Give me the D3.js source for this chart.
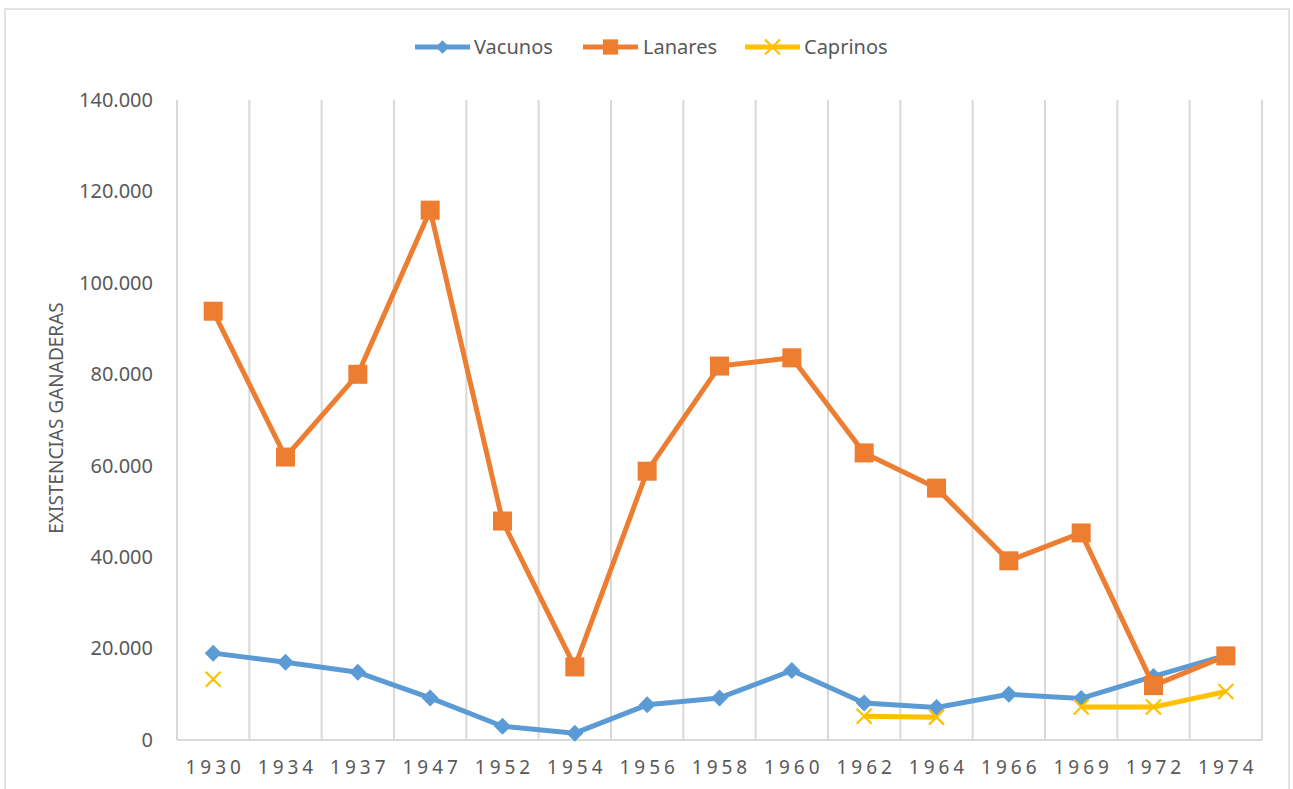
<!DOCTYPE html>
<html><head><meta charset="utf-8">
<script src="https://cdn.jsdelivr.net/npm/d3@7"></script>
<style>body{margin:0;background:#fff}svg{display:block}text{font-family:"Noto Sans","Open Sans",sans-serif;fill:#595959}</style>
</head><body>
<script>
const years = ["1930","1934","1937","1947","1952","1954","1956","1958","1960","1962","1964","1966","1969","1972","1974"];
const vacunos = [19000,17000,14800,9200,3000,1500,7700,9200,15200,8100,7100,10000,9100,13900,18500];
const lanares = [93800,61900,80000,115900,47900,16000,58800,81800,83600,62800,55100,39200,45300,11900,18400];
const caprinos = [13300,null,null,null,null,null,null,null,null,5200,5000,null,7200,7200,10600];
const yTicks = [0,20000,40000,60000,80000,100000,120000,140000];
const seriesNames = ["Vacunos","Lanares","Caprinos"];
const colors = ["#5B9BD5","#ED7D31","#FFC000"];

const W=1293,H=789;
const svg=d3.select("body").append("svg").attr("width",W).attr("height",H);
svg.append("rect").attr("x",5).attr("y",9).attr("width",1284).attr("height",800).attr("fill","#fff").attr("stroke","#D9D9D9").attr("stroke-width",1.5);

const x=d3.scaleBand().domain(years).range([177,1262]);
const y=d3.scaleLinear().domain([0,140000]).range([740,100]);

const edges=years.map(d=>x(d)).concat([x.range()[1]]);
svg.append("g").selectAll("line").data(edges).join("line")
 .attr("x1",d=>d).attr("x2",d=>d).attr("y1",100).attr("y2",740)
 .attr("stroke","#D9D9D9").attr("stroke-width",2);
svg.append("line").attr("x1",177).attr("x2",1262).attr("y1",740).attr("y2",740).attr("stroke","#D9D9D9").attr("stroke-width",2);

const fmt=v=>d3.format(",")(v).replace(/,/g,".");
const yAxis=d3.axisLeft(y).tickValues(yTicks).tickFormat(fmt).tickSize(0).tickPadding(24);
const gy=svg.append("g").attr("transform","translate(177,0)").call(yAxis);
gy.select(".domain").remove();
gy.selectAll("text").style("font-size","20px").style("fill","#595959").style("font-family",null);

const xAxis=d3.axisBottom(x).tickSize(0).tickPadding(18);
const gx=svg.append("g").attr("transform","translate(0,740)").call(xAxis);
gx.select(".domain").remove();
gx.selectAll("text").style("font-size","19px").style("letter-spacing","4px").attr("dx","2").attr("dy","0.82em").style("fill","#595959").style("font-family",null);

svg.append("text").attr("transform","translate(63,418) rotate(-90)").attr("text-anchor","middle")
 .style("font-size","19px").text("EXISTENCIAS GANADERAS");

const data=[vacunos,lanares,caprinos];
const line=d3.line().defined(d=>d!=null).x((d,i)=>x(years[i])+x.bandwidth()/2).y(d=>y(d));

function marker(g,k,cx,cy,scale){
  const c=colors[k];
  if(k===0){
    const s=8.5*scale;
    g.append("path").attr("d",`M${cx},${cy-s}L${cx+s},${cy}L${cx},${cy+s}L${cx-s},${cy}Z`).attr("fill",c);
  } else if(k===1){
    const s=9.5*scale;
    g.append("rect").attr("x",cx-s).attr("y",cy-s).attr("width",2*s).attr("height",2*s).attr("fill",c);
  } else {
    const s=7.5*scale;
    g.append("path").attr("d",`M${cx-s},${cy-s}L${cx+s},${cy+s}M${cx-s},${cy+s}L${cx+s},${cy-s}`).attr("stroke",c).attr("stroke-width",2.2).attr("fill","none");
  }
}

data.forEach((arr,k)=>{
  const g=svg.append("g");
  g.append("path").datum(arr).attr("d",line).attr("fill","none").attr("stroke",colors[k]).attr("stroke-width",5).attr("stroke-linejoin","round");
  arr.forEach((v,i)=>{ if(v!=null) marker(g,k,x(years[i])+x.bandwidth()/2,y(v),1); });
});

const leg=[{x:415,tx:474},{x:583,tx:643},{x:745,tx:804}];
seriesNames.forEach((n,k)=>{
  const g=svg.append("g");
  g.append("line").attr("x1",leg[k].x).attr("x2",leg[k].x+55).attr("y1",47).attr("y2",47).attr("stroke",colors[k]).attr("stroke-width",5);
  marker(g,k,leg[k].x+27.5,47,k===2?1:0.8);
  g.append("text").attr("x",leg[k].tx).attr("y",47).attr("dy","0.35em").style("font-size","20px").text(n);
});
</script>
</body></html>
